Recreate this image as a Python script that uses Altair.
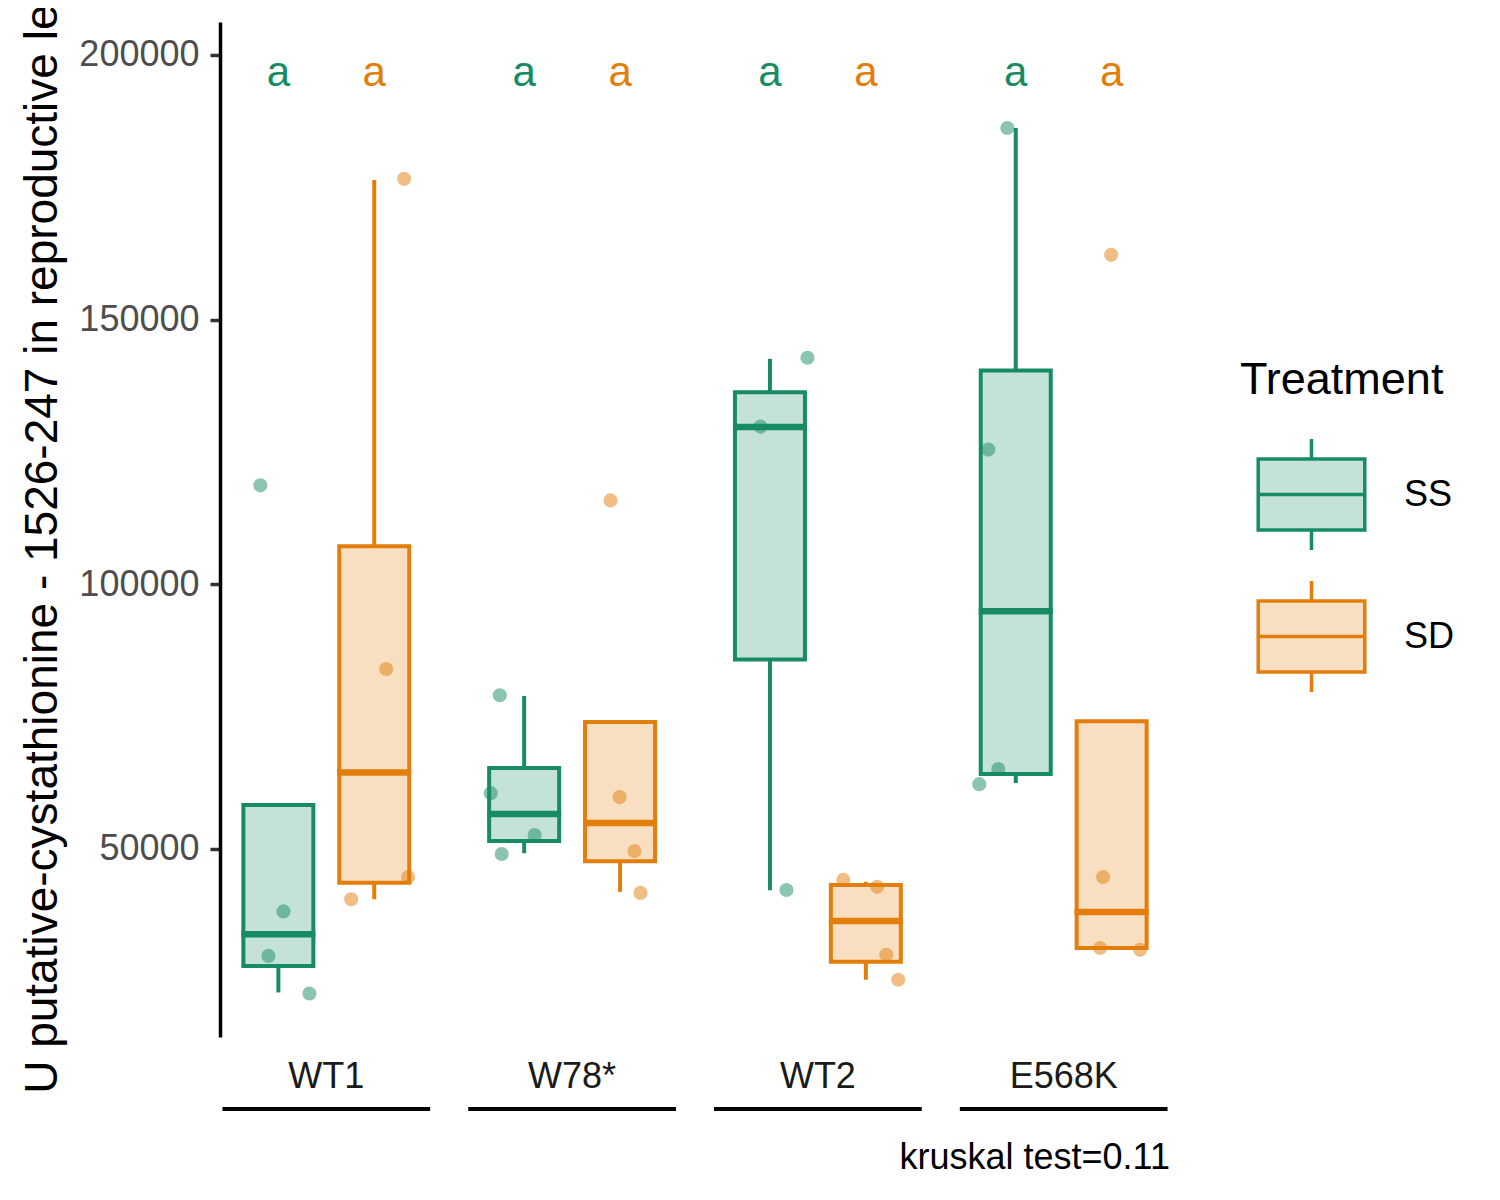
import altair as alt
import pandas as pd

FONT = "Liberation Sans"

genotypes = ["WT1", "W78*", "WT2", "E568K"]
treatments = ["SS", "SD"]
colors_dark = ["#178c64", "#e27e0c"]
colors_light = ["#c5e2d8", "#f8dfc2"]

# box statistics (order: genotype x treatment)
box_genotype = ["WT1", "WT1", "W78*", "W78*", "WT2", "WT2", "E568K", "E568K"]
box_treatment = ["SS", "SD", "SS", "SD", "SS", "SD", "SS", "SD"]
whisker_low = [22900, 40500, 49200, 41900, 42200, 25300, 62450, 31000]
q1 = [27900, 43600, 51500, 47700, 85800, 28700, 64150, 31300]
median = [33900, 64450, 56600, 54900, 129700, 36400, 94900, 38100]
q3 = [58300, 107200, 65300, 74000, 136300, 43200, 140400, 74150]
whisker_high = [58300, 176400, 78900, 74000, 142600, 43800, 186200, 74150]
letters = ["a", "a", "a", "a", "a", "a", "a", "a"]
letter_y = [194200] * 8

# individual observations
pt_genotype = ["WT1"] * 8 + ["W78*"] * 8 + ["WT2"] * 7 + ["E568K"] * 8
pt_treatment = (["SS"] * 4 + ["SD"] * 4 + ["SS"] * 4 + ["SD"] * 4
                + ["SS"] * 3 + ["SD"] * 4 + ["SS"] * 4 + ["SD"] * 4)
pt_value = [118700, 38200, 29800, 22700, 40500, 44700, 84000, 176600,
            79050, 60550, 52650, 49050, 59800, 49600, 41700, 115850,
            142800, 129800, 42250, 44150, 42850, 30000, 25300,
            186200, 125450, 65100, 62250, 162250, 44700, 31300, 30950]
pt_jitter = [-0.173, 0.049, -0.096, 0.299, -0.222, 0.326, 0.115, 0.288,
             -0.235, -0.322, 0.101, -0.216, -0.005, 0.139, 0.197, -0.092,
             0.361, -0.091, 0.159, -0.217, 0.110, 0.197, 0.312,
             -0.081, -0.264, -0.168, -0.351, -0.005, -0.082, -0.111, 0.274]

y_ticks = [50000, 100000, 150000, 200000]
y_domain = [14480, 206230]
y_title = "U putative-cystathionine - 1526-247 in reproductive leaf"
caption = "kruskal test=0.11"

box_df = pd.DataFrame({
    "Genotype": box_genotype, "Treatment": box_treatment,
    "lo": whisker_low, "q1": q1, "med": median, "q3": q3, "hi": whisker_high,
    "letter": letters, "ly": letter_y,
})
pt_df = pd.DataFrame({
    "Genotype": pt_genotype, "Treatment": pt_treatment,
    "value": pt_value, "jitter": pt_jitter,
})
geno_df = pd.DataFrame({"Genotype": genotypes})

W, H = 950, 1015
PI, PO = 0.155, 0.01
BW = W / (4 - PI + 2 * PO) * (1 - PI)
SPI, SPO = 0.27, 0.218
SUB = 1 / (2 - SPI + 2 * SPO)

x_scale = alt.Scale(type="band", domain=genotypes, paddingInner=PI, paddingOuter=PO)
xo_scale = alt.Scale(type="band", domain=treatments, paddingInner=SPI, paddingOuter=SPO)
y_scale = alt.Scale(domain=y_domain, nice=False, zero=False)
y_axis = alt.Axis(values=y_ticks, format="d", grid=False, labelFontSize=36,
                  labelColor="#4d4d4d", labelPadding=11, tickSize=10,
                  tickWidth=3.5, tickColor="#333333", domainColor="black",
                  domainWidth=3.5, titleFontSize=46, titleFontWeight="normal",
                  titleColor="black", titlePadding=12)
x_axis = alt.Axis(title=None, domain=False, ticks=False, labelAngle=0,
                  labelFontSize=36, labelColor="#1a1a1a", labelPadding=22)

X = alt.X("Genotype:N", scale=x_scale, axis=x_axis)
XO = alt.XOffset("Treatment:N", scale=xo_scale)
col = alt.Color("Treatment:N", scale=alt.Scale(domain=treatments, range=colors_dark), legend=None)


def Y(f):
    return alt.Y(f"{f}:Q", scale=y_scale, axis=y_axis, title=y_title)


box_path = ("M-0.96,-0.64L0.96,-0.64L0.96,0.64L-0.96,0.64Z "
            "M-0.96,0L0.96,0 M0,-1L0,-0.64 M0,0.64L0,1")
leg = alt.Legend(orient="none", legendX=1020, legendY=336, title="Treatment",
                 titleFontSize=45, titleFontWeight="normal", titleColor="black",
                 titleFont=FONT, titleLimit=600, labelFont=FONT, labelFontSize=36,
                 labelColor="black", symbolType=box_path, symbolSize=12321,
                 symbolStrokeWidth=3.5, symbolOffset=14, labelOffset=35,
                 rowPadding=17, titlePadding=34, padding=0)

base = alt.Chart(box_df)

underline = alt.Chart(geno_df).mark_bar(color="black").encode(
    x=X, y=alt.value(H + 70), y2=alt.value(H + 74))

boxes = base.mark_bar(strokeWidth=4).encode(
    x=X, xOffset=XO, y=Y("q1"), y2=alt.Y2("q3"),
    fill=alt.Fill("Treatment:N", scale=alt.Scale(domain=treatments, range=colors_light), legend=leg),
    stroke=alt.Stroke("Treatment:N", scale=alt.Scale(domain=treatments, range=colors_dark), legend=leg),
)
low_wh = base.mark_rule(strokeWidth=4).encode(
    x=X, xOffset=XO, y=Y("lo"), y2=alt.Y2("q1"), color=col)
high_wh = base.mark_rule(strokeWidth=4).encode(
    x=X, xOffset=XO, y=Y("q3"), y2=alt.Y2("hi"), color=col)
med = base.mark_tick(orient="horizontal", thickness=6.5, size=74, opacity=1).encode(
    x=X, xOffset=XO, y=Y("med"), color=col)
txt = base.mark_text(fontSize=42, font=FONT, baseline="alphabetic", align="center").encode(
    x=X, xOffset=XO, y=Y("ly"), text="letter:N", color=col)

points = alt.Chart(pt_df).transform_calculate(
    off=f"(datum.Treatment == 'SS' ? -{SUB} : {SUB}) + datum.jitter"
).mark_circle(size=200, opacity=0.5).encode(
    x=X,
    xOffset=alt.XOffset("off:Q", scale=alt.Scale(domain=[-1, 1], range=[0, BW], nice=False, zero=False)),
    y=Y("value"), color=col)

chart = alt.layer(underline, boxes, low_wh, high_wh, med, points, txt).resolve_scale(
    xOffset="independent"
).properties(
    width=W, height=H,
    autosize=alt.AutoSizeParams(type="none"),
    padding={"left": 212, "top": 14, "right": 300, "bottom": 140},
    title=alt.TitleParams(caption, orient="bottom", anchor="end", frame="group",
                          fontSize=36, fontWeight="normal", color="black",
                          font=FONT, offset=30),
).configure_view(stroke=None).configure_axis(labelFont=FONT, titleFont=FONT)

chart.save("out.html", embed_options={"renderer": "svg", "actions": False})
